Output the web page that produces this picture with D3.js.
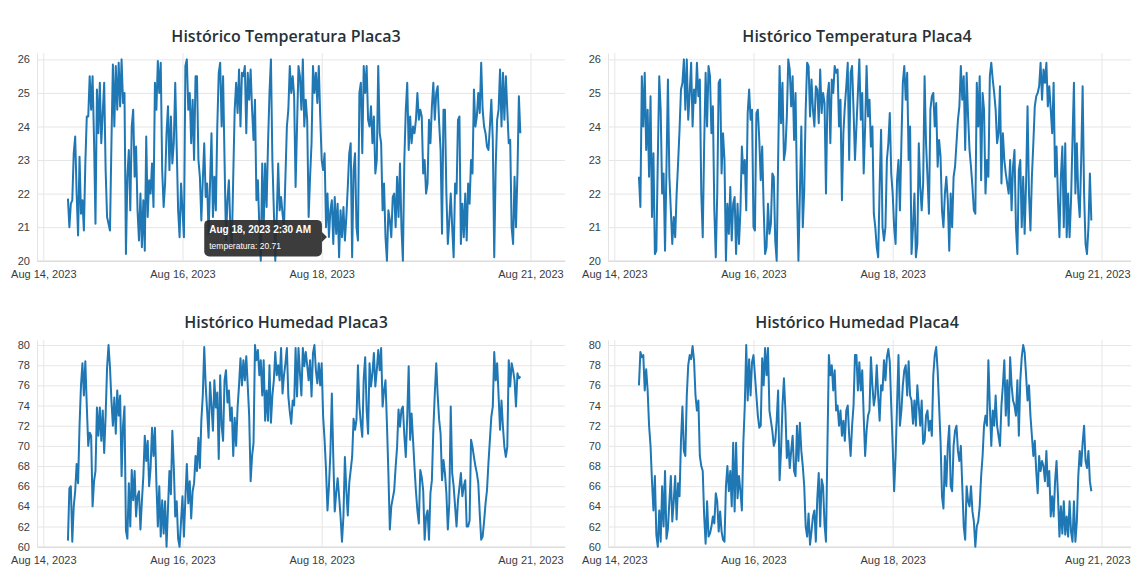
<!DOCTYPE html>
<html lang="es">
<head>
<meta charset="utf-8">
<script src="https://cdn.jsdelivr.net/npm/d3@7"></script>
<style>
  html, body { margin: 0; padding: 0; background: #fff; }
  svg { display: block; font-family: "Liberation Sans", Arial, sans-serif; }
</style>
</head>
<body>
<svg id="chart" width="1131" height="578"></svg>
<script>
// Lecturas cada 30 minutos desde el 14 de agosto, 8:30
const inicio = new Date(2023, 7, 14, 8, 30);
const pasoMinutos = 30;

const temperaturaPlaca3 = [
  21.85, 21.0, 21.7, 21.8, 23.2, 23.7, 22.0, 20.75, 23.1, 21.4,
  21.8, 20.9, 22.9, 24.3, 24.3, 25.5, 24.5, 25.5, 23.6, 21.1,
  25.1, 23.8, 25.3, 23.5, 24.4, 25.3, 22.7, 21.3, 21.1, 20.9,
  23.5, 25.85, 24.0, 25.8, 24.5, 25.9, 24.6, 26.0, 24.7, 25.0,
  20.2, 22.5, 23.3, 21.5, 24.0, 24.5, 22.5, 23.4, 21.5, 20.6,
  22.0, 20.4, 21.8, 20.3, 23.7, 21.3, 22.4, 22.0, 22.9, 21.6,
  25.3, 24.5, 25.95, 25.0, 25.9, 22.7, 21.6, 22.3, 23.8, 24.6,
  22.7, 24.3, 22.9, 23.5, 25.3, 23.4, 21.5, 20.7, 22.3, 21.5,
  20.7, 25.8, 26.0, 24.5, 25.0, 23.5, 24.8, 23.0, 25.5, 25.5,
  23.0, 22.5, 21.2, 22.4, 23.5, 21.9, 22.3, 20.8, 22.3, 23.8,
  21.3, 22.5, 21.5, 24.0, 25.6, 25.9, 24.0, 25.5, 23.0, 20.6,
  21.8, 22.4, 21.0, 20.4, 22.5, 24.5, 25.3, 24.4, 25.7, 24.0,
  25.6, 25.5, 25.8, 23.8, 25.6, 24.8, 25.7, 24.5, 23.6, 24.8,
  21.8, 22.4, 21.0, 20.0, 22.9, 21.0, 22.9, 21.6, 23.5, 25.0,
  26.0, 23.0, 21.5, 20.0, 21.3, 22.9, 21.5, 21.9, 21.4, 21.0,
  22.5, 24.0, 24.5, 25.8, 25.0, 25.5, 24.9, 22.2, 24.0, 25.8,
  25.5, 24.5, 26.0, 24.0, 24.8, 24.2, 21.3, 22.5, 23.5, 25.8,
  25.0, 25.6, 24.7, 25.8, 24.3, 23.0, 22.7, 23.2, 21.0, 22.0,
  20.71, 21.5, 21.8, 20.5, 21.9, 20.8, 21.7, 20.1, 21.5, 20.7,
  21.6, 20.6, 21.3, 22.2, 23.2, 23.5, 20.1, 22.7, 23.2, 21.0,
  20.6, 25.0, 25.3, 23.2, 25.8, 25.0, 25.8, 24.2, 24.0, 24.6,
  23.5, 24.3, 22.6, 23.0, 25.8, 23.8, 23.5, 21.5, 22.3, 20.7,
  20.0, 21.5, 21.2, 20.7, 21.9, 22.0, 21.0, 22.5, 21.3, 22.9,
  21.0, 20.0, 23.0, 24.5, 25.3, 23.3, 24.3, 23.5, 24.0, 23.8,
  24.2, 25.0, 24.2, 24.5, 24.3, 22.6, 23.0, 22.0, 22.3, 24.2,
  23.5, 24.6, 25.3, 24.2, 25.0, 25.2, 24.1, 23.3, 20.8, 24.5,
  24.5, 22.0, 20.5, 21.2, 22.0, 21.0, 20.1, 22.3, 22.0, 24.2,
  24.3, 20.5, 21.7, 20.7, 22.0, 20.6, 22.3, 21.7, 23.0, 22.6,
  25.1, 24.0, 24.3, 25.0, 24.4, 25.9, 24.5, 24.0, 23.8, 23.4,
  23.3, 24.0, 24.8, 23.6, 20.1, 22.8, 24.2, 24.5, 25.7, 24.0,
  25.6, 24.2, 25.5, 24.5, 23.5, 23.6, 21.0, 20.5, 22.5, 21.0,
  22.6, 24.9, 23.8
];

const temperaturaPlaca4 = [
  22.5, 21.6, 25.5, 24.0, 25.6, 23.3, 24.5, 22.5, 24.9, 21.3,
  23.2, 20.2, 20.3, 23.0, 25.5, 24.5, 22.0, 22.6, 20.3, 22.8,
  25.4, 22.5, 21.5, 20.5, 21.3, 20.7, 22.0, 22.9, 23.9, 25.1,
  25.3, 26.0, 24.5, 26.0, 24.2, 25.0, 25.9, 24.0, 25.1, 24.7,
  25.9, 24.9, 25.4, 22.0, 20.7, 23.5, 25.6, 24.0, 25.8, 25.5,
  23.8, 24.6, 21.5, 20.1, 22.0, 25.3, 25.4, 22.6, 23.8, 23.0,
  20.0, 21.7, 20.8, 22.2, 20.6, 21.7, 21.9, 20.2, 21.7, 20.5,
  21.5, 23.4, 22.6, 23.0, 21.5, 24.4, 25.1, 24.2, 24.5, 21.0,
  20.9, 24.4, 24.5, 23.6, 22.4, 23.4, 21.6, 20.2, 20.4, 21.7,
  20.8, 21.1, 22.6, 22.5, 20.6, 20.0, 23.0, 25.8, 24.1, 25.3,
  23.0, 23.3, 24.3, 26.0, 25.7, 24.6, 25.5, 23.6, 25.0, 22.1,
  20.0, 22.0, 24.0, 21.0, 22.1, 24.5, 25.9, 25.8, 24.3, 25.4,
  24.5, 24.0, 25.2, 25.1, 24.1, 25.7, 24.4, 25.0, 24.7, 22.0,
  24.9, 25.3, 23.5, 25.4, 25.0, 25.8, 25.6, 25.7, 24.0, 24.8,
  21.8, 23.8, 24.6, 25.2, 25.9, 23.0, 25.6, 25.8, 24.5, 23.0,
  24.0, 25.0, 26.0, 24.2, 25.0, 22.6, 24.0, 25.8, 24.3, 24.8,
  23.4, 24.0, 21.4, 21.0, 20.4, 20.1, 22.2, 23.9, 21.0, 20.6,
  21.0, 23.0, 23.5, 24.4, 22.6, 22.0, 21.0, 20.5, 22.4, 23.0,
  21.5, 23.5, 25.3, 25.8, 24.8, 25.6, 23.0, 24.0, 20.2, 21.0,
  22.0, 20.1, 20.5, 23.5, 22.2, 21.5, 22.3, 25.5, 23.5, 22.5,
  21.4, 24.5, 24.9, 25.0, 24.0, 24.7, 22.8, 23.6, 23.1, 21.5,
  21.0, 22.0, 22.5, 21.8, 20.3, 22.0, 21.0, 22.5, 22.8, 23.5,
  24.2, 24.6, 25.8, 24.8, 25.5, 23.3, 25.6, 24.3, 23.3, 22.8,
  22.2, 21.5, 21.4, 25.3, 24.0, 25.5, 22.4, 25.0, 24.5, 22.0,
  23.0, 22.5, 25.5, 25.9, 25.4, 25.0, 24.5, 23.5, 23.8, 25.2,
  22.3, 23.8, 23.0, 22.6, 22.3, 22.0, 23.0, 21.5, 22.8, 23.3,
  21.0, 20.2, 22.7, 23.0, 21.0, 22.5, 20.8, 22.3, 24.6, 22.0,
  20.9, 22.5, 23.5, 24.6, 24.9, 25.0, 25.2, 25.9, 24.8, 25.7,
  25.3, 25.9, 24.6, 25.2, 24.5, 23.8, 25.3, 22.5, 23.4, 21.8,
  20.7, 22.5, 23.4, 21.0, 23.5, 20.7, 22.0, 20.7, 21.8, 23.6,
  25.3, 22.0, 23.5, 21.9, 21.3, 23.0, 25.2, 22.0, 20.5, 20.2,
  21.0, 22.6, 21.2
];

const humedadPlaca3 = [
  60.6, 65.8, 66.0, 60.5, 64.0, 65.5, 68.2, 66.3, 72.0, 76.0,
  78.2, 75.0, 78.4, 74.0, 70.0, 71.3, 71.0, 64.0, 66.5, 67.5,
  73.8, 71.0, 73.8, 70.5, 73.5, 69.3, 73.0, 77.8, 80.0, 77.8,
  74.5, 72.0, 74.8, 71.2, 75.5, 73.0, 75.0, 67.0, 72.0, 73.9,
  61.6, 60.8, 66.3, 62.0, 67.6, 64.6, 67.5, 63.0, 65.0, 65.5,
  61.7, 64.5, 67.0, 71.0, 68.5, 70.5, 66.0, 67.8, 71.8, 69.0,
  71.8, 66.4, 62.0, 66.0, 61.0, 64.6, 61.3, 64.5, 60.0, 63.8,
  67.5, 65.2, 71.5, 68.0, 63.0, 64.5, 60.8, 60.0, 62.5, 65.0,
  61.0, 64.8, 68.2, 64.3, 66.5, 62.8, 65.5, 66.3, 69.0, 67.5,
  70.8, 67.8, 72.5, 75.0, 79.8, 76.0, 73.5, 70.8, 76.3, 74.0,
  71.5, 76.5, 73.8, 75.3, 68.7, 77.0, 72.0, 70.5, 76.5, 77.5,
  74.3, 75.5, 72.5, 73.8, 69.0, 72.8, 70.0, 73.8, 76.0, 78.7,
  76.0, 78.5, 76.5, 78.9, 76.0, 73.0, 66.5, 69.0, 70.3, 80.0,
  78.5, 79.5, 77.0, 78.5, 75.0, 78.5, 72.5, 75.5, 72.5, 78.0,
  72.3, 75.0, 76.5, 79.3, 77.0, 78.0, 76.5, 79.7, 75.2, 77.0,
  78.2, 79.7, 74.9, 73.4, 72.2, 74.5, 74.0, 79.7, 74.9, 79.7,
  77.2, 75.0, 79.7, 77.9, 79.3, 78.0, 76.5, 78.5, 74.9, 79.2,
  80.0, 77.5, 76.2, 78.2, 76.0, 78.2, 72.9, 70.6, 67.6, 63.6,
  66.0, 69.3, 75.2, 68.9, 63.5, 65.3, 66.8, 65.0, 63.0, 60.5,
  63.0, 68.9, 65.6, 63.1, 66.3, 67.6, 68.9, 72.7, 71.6, 72.6,
  78.0, 74.0, 72.2, 70.9, 76.7, 78.8, 73.6, 71.2, 78.2, 75.9,
  77.2, 79.2, 75.9, 77.5, 79.5, 77.5, 79.7, 73.9, 75.5, 76.5,
  72.2, 67.3, 61.7, 64.0, 64.8, 65.6, 67.9, 69.9, 73.6, 71.9,
  73.6, 73.9, 71.0, 68.9, 72.9, 77.9, 70.6, 73.2, 70.6, 67.9,
  65.5, 63.6, 62.3, 67.6, 66.9, 65.6, 60.7, 63.0, 63.6, 60.7,
  65.3, 66.6, 71.6, 75.2, 78.2, 75.0, 72.6, 71.2, 66.6, 68.6,
  67.3, 65.3, 61.7, 64.3, 73.9, 67.3, 66.0, 64.0, 62.0, 64.6,
  65.9, 67.3, 65.0, 66.0, 66.6, 62.0, 62.0, 62.6, 70.6, 69.9,
  68.9, 68.0, 67.3, 66.3, 63.3, 60.7, 61.0, 62.5, 64.3, 65.6,
  68.3, 70.6, 72.9, 73.9, 79.3, 76.5, 78.2, 75.0, 71.6, 74.5,
  71.9, 69.9, 68.9, 69.9, 78.5, 75.9, 78.2, 77.5, 76.5, 73.9,
  77.2, 76.7, 76.9
];

const humedadPlaca4 = [
  76.0, 79.3, 78.8, 79.0, 75.5, 77.6, 75.5, 72.0, 70.0, 66.5,
  63.6, 67.0, 61.2, 60.0, 63.6, 60.5, 66.0, 62.0, 67.5, 60.8,
  61.8, 64.5, 67.0, 62.5, 64.5, 67.0, 62.7, 66.3, 65.0, 70.5,
  73.9, 69.5, 69.0, 75.0, 78.0, 79.0, 78.6, 79.9, 78.5, 75.0,
  73.5, 74.5, 69.0, 68.0, 67.5, 63.0, 60.3, 64.5, 61.0, 61.3,
  62.0, 63.0, 62.3, 65.3, 64.5, 61.5, 63.5, 61.5, 60.7, 60.5,
  66.0, 68.0, 65.5, 67.5, 64.0, 70.3, 63.5, 70.3, 64.8, 67.0,
  65.5, 63.6, 70.3, 74.0, 80.0, 74.5, 78.6, 75.0, 78.3, 79.0,
  77.0, 75.0, 73.0, 71.8, 72.0, 78.7, 76.0, 79.7, 77.0, 79.7,
  73.5, 72.5, 71.5, 70.0, 70.5, 72.5, 75.5, 66.6, 69.5, 74.0,
  76.7, 73.5, 68.8, 70.5, 67.8, 69.5, 71.0, 67.5, 67.0, 72.0,
  68.5, 72.3, 69.5, 68.0, 66.0, 62.0, 61.0, 63.3, 60.2, 61.5,
  63.0, 63.6, 60.5, 64.8, 67.3, 62.0, 66.7, 66.0, 62.2, 60.5,
  70.0, 79.0, 77.0, 78.0, 75.5, 77.5, 73.5, 74.0, 72.0, 73.5,
  71.0, 72.5, 70.5, 73.5, 74.0, 71.0, 69.0, 72.0, 74.0, 79.0,
  79.0, 75.5, 78.3, 75.5, 77.5, 73.0, 69.0, 71.5, 73.0, 73.5,
  78.8, 76.0, 74.0, 75.0, 78.0, 75.0, 72.5, 76.0, 75.5, 78.5,
  76.5, 78.8, 79.6, 78.3, 74.0, 70.0, 65.5, 69.0, 74.0, 79.0,
  72.0, 73.5, 76.0, 77.5, 78.0, 75.0, 78.4, 75.0, 74.5, 72.2,
  74.5, 72.0, 76.0, 74.0, 72.0, 74.5, 70.2, 70.5, 73.0, 73.5,
  71.5, 72.5, 71.0, 77.0, 79.0, 79.8, 77.5, 74.0, 70.5, 65.0,
  63.8, 69.0, 66.0, 70.0, 72.0, 66.0, 65.5, 70.0, 71.5, 72.0,
  69.5, 68.5, 70.0, 66.0, 62.0, 60.7, 66.0, 64.5, 64.0, 66.0,
  63.5, 62.5, 60.0, 62.0, 62.5, 64.0, 67.0, 69.0, 72.0, 73.0,
  72.0, 78.5, 74.0, 70.0, 73.5, 72.0, 75.0, 72.0, 71.0, 70.0,
  74.0, 76.0, 78.5, 73.0, 76.5, 72.0, 78.8, 76.0, 74.5, 74.0,
  73.0, 76.5, 71.0, 76.5, 78.8, 80.0, 79.3, 77.0, 74.5, 76.0,
  73.0, 71.0, 69.0, 70.5, 67.5, 65.3, 69.0, 67.5, 68.5, 68.0,
  66.5, 69.5, 66.0, 67.5, 63.0, 65.0, 63.0, 66.5, 68.5, 65.0,
  61.0, 64.0, 61.3, 64.5, 61.2, 63.0, 61.0, 64.5, 61.5, 60.5,
  64.5, 60.5, 62.5, 67.0, 69.5, 68.0, 70.3, 72.0, 68.5, 67.8,
  69.5, 66.5, 65.5
];

const titulos = [
  "Histórico Temperatura Placa3",
  "Histórico Temperatura Placa4",
  "Histórico Humedad Placa3",
  "Histórico Humedad Placa4"
];
const fechasEje = [
  new Date(2023, 7, 14), new Date(2023, 7, 16),
  new Date(2023, 7, 18), new Date(2023, 7, 21)
];
const ticksTemperatura = [20, 21, 22, 23, 24, 25, 26];
const ticksHumedad = [60, 62, 64, 66, 68, 70, 72, 74, 76, 78, 80];

// punto señalado por el tooltip
const tooltipFecha = new Date(2023, 7, 18, 2, 30);
const tooltipEtiqueta = "temperatura";
const tooltipValor = 20.71;

// ---- dibujo ----
const ANCHO = 1131;
const svg = d3.select("#chart");
svg.append("rect").attr("width", ANCHO).attr("height", 578).attr("fill", "#fff");

const fmtEje = d3.timeFormat("%b %-d, %Y");
const fmtTooltip = d3.timeFormat("%b %-d, %Y %-I:%M %p");
const dominioX = [new Date(2023, 7, 13, 21, 50), new Date(2023, 7, 21, 11, 54)];

const filas = [
  { top: 53, bottom: 260.7, dominioY: [20, 26.19], ticks: ticksTemperatura, tituloY: 42 },
  { top: 340, bottom: 546.7, dominioY: [60, 80.5], ticks: ticksHumedad, tituloY: 328 }
];
const columnas = [0, 571];

const paneles = [
  { titulo: titulos[0], valores: temperaturaPlaca3, fila: 0, col: 0, tooltip: true },
  { titulo: titulos[1], valores: temperaturaPlaca4, fila: 0, col: 1 },
  { titulo: titulos[2], valores: humedadPlaca3, fila: 1, col: 0 },
  { titulo: titulos[3], valores: humedadPlaca4, fila: 1, col: 1 }
];

function serie(valores) {
  return valores.map((v, i) => ({
    fecha: new Date(inicio.getTime() + i * pasoMinutos * 60000),
    valor: v
  }));
}

paneles.forEach(p => {
  const f = filas[p.fila];
  const off = columnas[p.col];
  const left = 37 + off, right = 565 + off;

  const x = d3.scaleTime().domain(dominioX).range([left, right]);
  const y = d3.scaleLinear().domain(f.dominioY).range([f.bottom, f.top]);

  const g = svg.append("g");

  g.append("text")
      .attr("x", 286 + off)
      .attr("y", f.tituloY)
      .attr("text-anchor", "middle")
      .attr("font-family", "'Open Sans', sans-serif")
      .attr("font-weight", 600)
      .attr("font-size", "16px")
      .attr("fill", "#263238")
      .text(p.titulo);

  const ejeY = g.append("g")
      .attr("transform", `translate(${left},0)`)
      .call(d3.axisLeft(y).tickValues(f.ticks).tickFormat(d3.format("d"))
        .tickSizeInner(-(right - left)).tickSizeOuter(0).tickPadding(7));
  ejeY.select(".domain").attr("stroke", "#e3e3e3");
  ejeY.selectAll(".tick line").attr("stroke", "#e6e6e6");
  ejeY.selectAll(".tick text").attr("font-size", "11px").attr("fill", "#373d3f")
      .attr("font-family", "'Liberation Sans', Arial, sans-serif");

  const ejeX = g.append("g")
      .attr("transform", `translate(0,${f.bottom})`)
      .call(d3.axisBottom(x).tickValues(fechasEje).tickFormat(fmtEje)
        .tickSizeInner(-(f.bottom - f.top)).tickSizeOuter(0).tickPadding(9.5));
  ejeX.select(".domain").attr("stroke", "#d6d6d6");
  ejeX.selectAll(".tick line").attr("stroke", "#e6e6e6");
  ejeX.selectAll(".tick text").attr("font-size", "11px").attr("fill", "#373d3f")
      .attr("font-family", "'Liberation Sans', Arial, sans-serif")
      .each(function(d) {
        // la última etiqueta del panel derecho no debe salirse de la ventana
        const w = this.getComputedTextLength();
        const exceso = x(d) + w / 2 - (ANCHO - 1);
        if (exceso > 0) d3.select(this).attr("x", -exceso);
      });

  const linea = d3.line().x(d => x(d.fecha)).y(d => y(d.valor));
  g.append("path")
      .datum(serie(p.valores))
      .attr("fill", "none")
      .attr("stroke", "#1f77b4")
      .attr("stroke-width", 2)
      .attr("stroke-linejoin", "round")
      .attr("d", linea);

  if (p.tooltip) {
    const px = x(tooltipFecha), py = y(tooltipValor);
    const w = 117.7, h = 36.7;
    const bx = px - 7 - w, by = py - 17;
    const tip = g.append("g");
    tip.append("rect")
        .attr("x", bx).attr("y", by).attr("width", w).attr("height", h)
        .attr("rx", 5).attr("fill", "#2b2b2b").attr("fill-opacity", 0.92);
    tip.append("path")
        .attr("d", `M${bx + w},${py - 5}L${bx + w + 5},${py}L${bx + w},${py + 5}Z`)
        .attr("fill", "#2b2b2b").attr("fill-opacity", 0.92);
    tip.append("text")
        .attr("x", bx + 5).attr("y", by + 12.7)
        .attr("font-size", "10px").attr("font-weight", "bold").attr("fill", "#fff")
        .text(fmtTooltip(tooltipFecha));
    tip.append("text")
        .attr("x", bx + 5).attr("y", by + 29)
        .attr("font-size", "8.5px").attr("fill", "#fff")
        .text(`${tooltipEtiqueta}: ${tooltipValor}`);
  }
});
</script>
</body>
</html>
